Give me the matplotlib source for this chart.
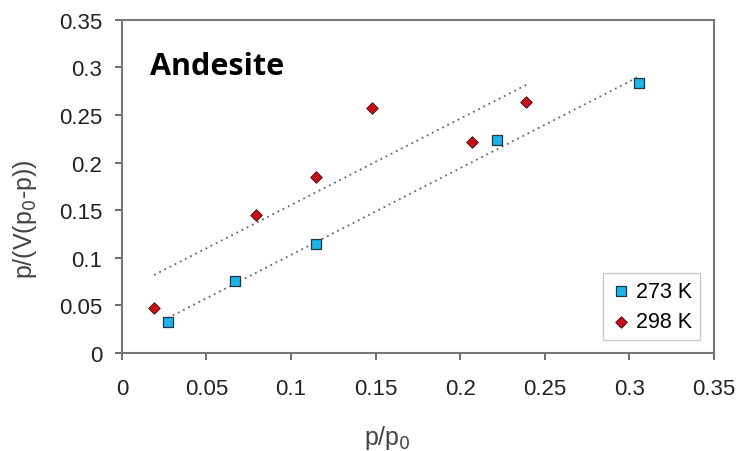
import numpy as np
import matplotlib
matplotlib.use("Agg")
import matplotlib.pyplot as plt

plt.rcParams['font.family'] = ['Liberation Sans', 'DejaVu Sans']

# data
x_273 = [0.027, 0.067, 0.115, 0.222, 0.306]
y_273 = [0.033, 0.076, 0.114, 0.224, 0.284]
x_298 = [0.019, 0.079, 0.115, 0.148, 0.207, 0.239]
y_298 = [0.047, 0.145, 0.185, 0.257, 0.222, 0.264]

fig = plt.figure(figsize=(7.39, 4.52), dpi=100)
ax = fig.add_axes([0.165, 0.2168, 0.801, 0.7375])

# linear trend lines
for xs, ys in [(x_273, y_273), (x_298, y_298)]:
    k, b = np.polyfit(xs, ys, 1)
    xx = np.array([min(xs), max(xs)])
    ax.plot(xx, k * xx + b, color='#666666', lw=1.3, ls=(0, (1, 2.2)), zorder=1)

ax.scatter(x_273, y_273, marker='s', s=60, color='#1eb4e6', edgecolor='#1a3a4a',
           linewidth=0.9, label='273 K', zorder=3)
ax.scatter(x_298, y_298, marker='D', s=34, color='#c8101a', edgecolor='#5a0808',
           linewidth=0.7, label='298 K', zorder=3)

ax.set_xlim(0, 0.35)
ax.set_ylim(0, 0.35)
ticks = [0, 0.05, 0.1, 0.15, 0.2, 0.25, 0.3, 0.35]
labels = ['0', '0.05', '0.1', '0.15', '0.2', '0.25', '0.3', '0.35']
ax.set_xticks(ticks)
ax.set_xticklabels(labels)
ax.set_yticks(ticks)
ax.set_yticklabels(labels)
ax.tick_params(labelsize=16, color='#555555', labelcolor='#222222', length=5, width=1.2)
ax.tick_params(axis='x', pad=13)
ax.tick_params(axis='y', pad=9)

for s in ax.spines.values():
    s.set_color('#777777')
    s.set_linewidth(1.5)

ax.set_xlabel('p/p$_0$', fontsize=18, color='#444444')
ax.set_ylabel('p/(V(p$_0$-p))', fontsize=18, color='#444444')
ax.xaxis.set_label_coords(0.449, -0.21)
ax.yaxis.set_label_coords(-0.14, 0.404)

ax.text(0.048, 0.837, 'Andesite', transform=ax.transAxes, fontsize=22,
        fontweight='bold', family=['Open Sans', 'DejaVu Sans'])

leg = ax.legend(loc='lower right', fontsize=15.5, frameon=True, fancybox=False,
                borderpad=0.35, handletextpad=0.2, labelspacing=0.45,
                handlelength=1.0, borderaxespad=0,
                bbox_to_anchor=(0.976, 0.039))
leg.get_frame().set_edgecolor('#bbbbbb')
leg.get_frame().set_linewidth(1.0)

fig.savefig('out.png', dpi=100)
